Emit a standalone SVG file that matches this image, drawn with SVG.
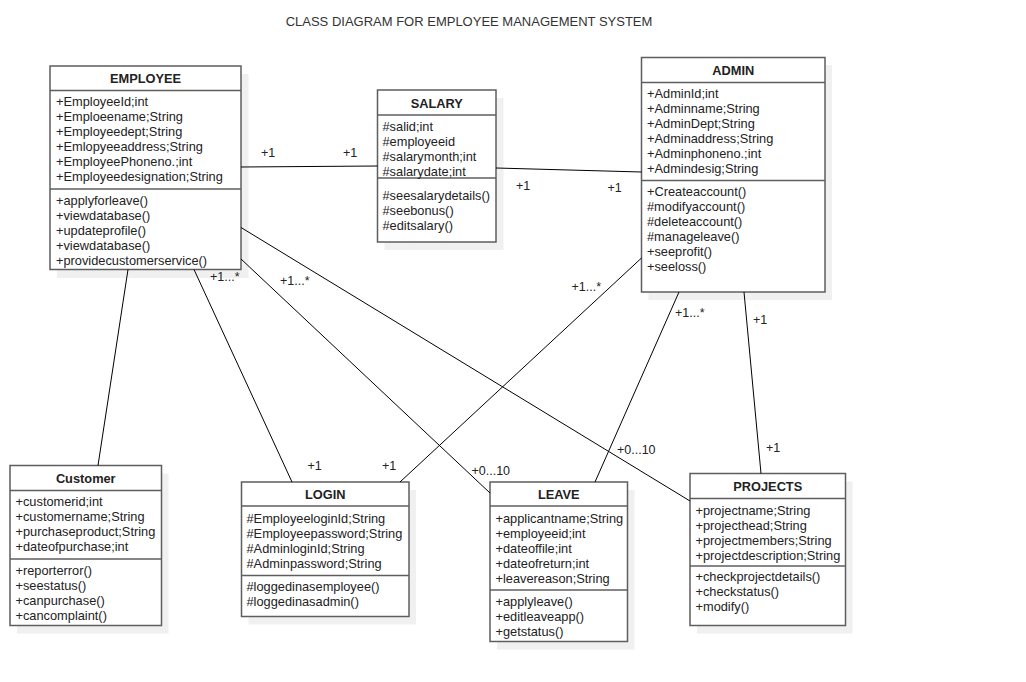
<svg xmlns="http://www.w3.org/2000/svg" width="1026" height="682" viewBox="0 0 1026 682">
<style>
text{font-family:"Liberation Sans",Arial,sans-serif;font-size:12.8px;fill:#222}
.h{font-weight:bold;text-anchor:middle}
.t{font-size:13px;fill:#333}
.lbl{font-size:12.5px}
.box{fill:#fff;stroke:#5e5e5e;stroke-width:1.5}
.sh{fill:#f0f0f0}
.div{stroke:#5e5e5e;stroke-width:1.5}
.c line{stroke:#000;stroke-width:1}
</style>
<rect width="1026" height="682" fill="#fff"/>
<text class="t" x="469" y="26" text-anchor="middle">CLASS DIAGRAM FOR EMPLOYEE MANAGEMENT SYSTEM</text>

<g id="employee">
<rect class="sh" x="57" y="74" width="191.5" height="204"/>
<rect class="box" x="50" y="66" width="191" height="203.5"/>
<line class="div" x1="50" y1="90.5" x2="241" y2="90.5"/>
<line class="div" x1="50" y1="189" x2="241" y2="189"/>
<text class="h" x="145.5" y="82.5">EMPLOYEE</text>
<text x="56" y="106">+EmployeeId;int</text>
<text x="56" y="121">+Emploeename;String</text>
<text x="56" y="136">+Employeedept;String</text>
<text x="56" y="151">+Emlopyeeaddress;String</text>
<text x="56" y="166">+EmployeePhoneno.;int</text>
<text x="56" y="181">+Employeedesignation;String</text>
<text x="56" y="204.5">+applyforleave()</text>
<text x="56" y="219.5">+viewdatabase()</text>
<text x="56" y="234.5">+updateprofile()</text>
<text x="56" y="249.5">+viewdatabase()</text>
<text x="56" y="264.5">+providecustomerservice()</text>
</g>

<g id="salary">
<rect class="sh" x="384.5" y="98" width="119" height="152"/>
<rect class="box" x="377.5" y="90" width="118.5" height="152"/>
<line class="div" x1="377.5" y1="115" x2="496" y2="115"/>
<line class="div" x1="377.5" y1="178" x2="496" y2="178"/>
<text class="h" x="436.75" y="107.5">SALARY</text>
<text x="382.5" y="130.5">#salid;int</text>
<text x="382.5" y="145.5">#employeeid</text>
<text x="382.5" y="160.5">#salarymonth;int</text>
<text x="382.5" y="175.5">#salarydate;int</text>
<text x="382.5" y="199.5">#seesalarydetails()</text>
<text x="382.5" y="214.5">#seebonus()</text>
<text x="382.5" y="229.5">#editsalary()</text>
</g>

<g id="admin">
<rect class="sh" x="648.5" y="65" width="183.5" height="235"/>
<rect class="box" x="641.5" y="57.5" width="183.5" height="234.5"/>
<line class="div" x1="641.5" y1="82.5" x2="825" y2="82.5"/>
<line class="div" x1="641.5" y1="180.5" x2="825" y2="180.5"/>
<text class="h" x="733.25" y="74.5">ADMIN</text>
<text x="647" y="98">+AdminId;int</text>
<text x="647" y="113">+Adminname;String</text>
<text x="647" y="128">+AdminDept;String</text>
<text x="647" y="143">+Adminaddress;String</text>
<text x="647" y="158">+Adminphoneno.;int</text>
<text x="647" y="173">+Admindesig;String</text>
<text x="647" y="196">+Createaccount()</text>
<text x="647" y="211">#modifyaccount()</text>
<text x="647" y="226">#deleteaccount()</text>
<text x="647" y="241">#manageleave()</text>
<text x="647" y="256">+seeprofit()</text>
<text x="647" y="271">+seeloss()</text>
</g>

<g id="customer">
<rect class="sh" x="17" y="473.5" width="151.5" height="160"/>
<rect class="box" x="10" y="465.5" width="151.5" height="160"/>
<line class="div" x1="10" y1="490.5" x2="161.5" y2="490.5"/>
<line class="div" x1="10" y1="559" x2="161.5" y2="559"/>
<text class="h" x="85.75" y="482.5">Customer</text>
<text x="15.5" y="506">+customerid;int</text>
<text x="15.5" y="521">+customername;String</text>
<text x="15.5" y="536">+purchaseproduct;String</text>
<text x="15.5" y="551">+dateofpurchase;int</text>
<text x="15.5" y="574.5">+reporterror()</text>
<text x="15.5" y="589.5">+seestatus()</text>
<text x="15.5" y="604.5">+canpurchase()</text>
<text x="15.5" y="619.5">+cancomplaint()</text>
</g>

<g id="login">
<rect class="sh" x="248.5" y="490" width="167.5" height="134.5"/>
<rect class="box" x="241.5" y="482" width="167.5" height="134.5"/>
<line class="div" x1="241.5" y1="506" x2="409" y2="506"/>
<line class="div" x1="241.5" y1="575.5" x2="409" y2="575.5"/>
<text class="h" x="325.25" y="498.5">LOGIN</text>
<text x="246.5" y="522.5">#EmployeeloginId;String</text>
<text x="246.5" y="537.5">#Employeepassword;String</text>
<text x="246.5" y="552.5">#AdminloginId;String</text>
<text x="246.5" y="567.5">#Adminpassword;String</text>
<text x="246.5" y="591">#loggedinasemployee()</text>
<text x="246.5" y="606">#loggedinasadmin()</text>
</g>

<g id="leave">
<rect class="sh" x="497" y="490" width="137.5" height="159.5"/>
<rect class="box" x="490" y="482" width="137.5" height="159.5"/>
<line class="div" x1="490" y1="506" x2="627.5" y2="506"/>
<line class="div" x1="490" y1="590" x2="627.5" y2="590"/>
<text class="h" x="558.75" y="498.5">LEAVE</text>
<text x="495.5" y="522.5">+applicantname;String</text>
<text x="495.5" y="537.5">+employeeid;int</text>
<text x="495.5" y="552.5">+dateoffile;int</text>
<text x="495.5" y="567.5">+dateofreturn;int</text>
<text x="495.5" y="582.5">+leavereason;String</text>
<text x="495.5" y="606">+applyleave()</text>
<text x="495.5" y="621">+editleaveapp()</text>
<text x="495.5" y="636">+getstatus()</text>
</g>

<g id="projects">
<rect class="sh" x="697" y="481.5" width="155.5" height="152"/>
<rect class="box" x="690" y="473.5" width="155.5" height="152"/>
<line class="div" x1="690" y1="498.5" x2="845.5" y2="498.5"/>
<line class="div" x1="690" y1="566" x2="845.5" y2="566"/>
<text class="h" x="767.75" y="491">PROJECTS</text>
<text x="695.5" y="514.5">+projectname;String</text>
<text x="695.5" y="529.5">+projecthead;String</text>
<text x="695.5" y="544.5">+projectmembers;String</text>
<text x="695.5" y="559.5">+projectdescription;String</text>
<text x="695.5" y="581">+checkprojectdetails()</text>
<text x="695.5" y="596">+checkstatus()</text>
<text x="695.5" y="611">+modify()</text>
</g>

<g id="connectors" class="c">
<line x1="241" y1="167" x2="377.5" y2="166"/>
<line x1="496" y1="168" x2="641.5" y2="172"/>
<line x1="128" y1="269.5" x2="98" y2="465.5"/>
<line x1="194" y1="269.5" x2="292" y2="482"/>
<line x1="241" y1="259" x2="490" y2="493"/>
<line x1="241" y1="227.5" x2="690" y2="501"/>
<line x1="641.5" y1="258" x2="400" y2="482"/>
<line x1="679" y1="292" x2="595" y2="482"/>
<line x1="744" y1="292" x2="761" y2="473.5"/>
</g>
<g id="labels">
<text class="lbl" x="261" y="157">+1</text>
<text class="lbl" x="343" y="157">+1</text>
<text class="lbl" x="516" y="189.5">+1</text>
<text class="lbl" x="607.5" y="192">+1</text>
<text class="lbl" x="210" y="281">+1...*</text>
<text class="lbl" x="280" y="285">+1...*</text>
<text class="lbl" x="571.5" y="290.5">+1...*</text>
<text class="lbl" x="675" y="317">+1...*</text>
<text class="lbl" x="753" y="323.5">+1</text>
<text class="lbl" x="766" y="451.5">+1</text>
<text class="lbl" x="617" y="453.5">+0...10</text>
<text class="lbl" x="307.5" y="469.5">+1</text>
<text class="lbl" x="382" y="469.5">+1</text>
<text class="lbl" x="471.5" y="475">+0...10</text>
</g>
</svg>
